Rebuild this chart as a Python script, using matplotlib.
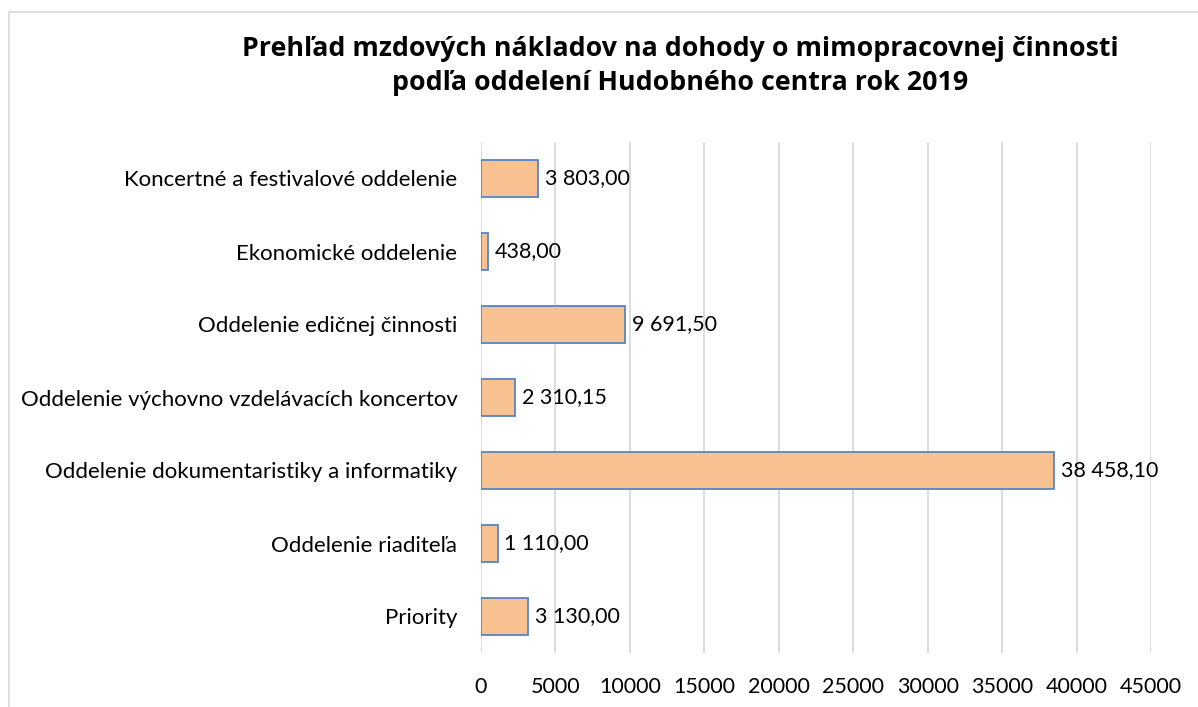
import matplotlib.pyplot as plt
from matplotlib.patches import Rectangle

# Data (bottom to top)
categories = ['Priority',
              'Oddelenie riaditeľa',
              'Oddelenie dokumentaristiky a informatiky',
              'Oddelenie výchovno vzdelávacích koncertov',
              'Oddelenie edičnej činnosti',
              'Ekonomické oddelenie',
              'Koncertné a festivalové oddelenie']
values = [3130.00, 1110.00, 38458.10, 2310.15, 9691.50, 438.00, 3803.00]
xticks = [0, 5000, 10000, 15000, 20000, 25000, 30000, 35000, 40000, 45000]

title = ('Prehľad mzdových nákladov na dohody o mimopracovnej činnosti\n'
         'podľa oddelení Hudobného centra rok 2019')


def fmt(v):
    s = f'{v:,.2f}'
    return s.replace(',', ' ').replace('.', ',')


fig = plt.figure(figsize=(11.98, 7.07), dpi=100)

# chart area frame (cropped on right and bottom)
fig.patches.append(Rectangle((9 / 1198, -0.05), 1.1, 1 - 12 / 707 + 0.05,
                             transform=fig.transFigure, fill=False,
                             edgecolor='#D9D9D9', linewidth=1.2))

ax = fig.add_axes([481 / 1198, 1 - 653 / 707, 670 / 1198, 511 / 707])

y = range(len(categories))
ax.barh(y, values, height=0.5, color='#F8C191', edgecolor='#5585C5',
        linewidth=1.3, zorder=3)

for yi, v in zip(y, values):
    ax.annotate(fmt(v), (v, yi), xytext=(5, 0), textcoords='offset points',
                va='center', ha='left', fontsize=15.5, family='Lato',
                color='#000000')

ax.set_xlim(0, 45000)
ax.set_ylim(-0.5, len(categories) - 0.5)
ax.set_xticks(xticks)
ax.set_xticklabels([str(t) for t in xticks], family='Lato', fontsize=15.5)
ax.set_yticks(list(y))
ax.set_yticklabels(categories, family='Lato', fontsize=16)
ax.tick_params(axis='y', length=0, pad=17)
ax.tick_params(axis='x', length=0, pad=17)

ax.grid(axis='x', color='#D9D9D9', linewidth=1.3, zorder=0)
for s in ax.spines.values():
    s.set_visible(False)

fig.text(680 / 1198, 1 - 66 / 707, title, ha='center', va='center',
         fontsize=19.3, fontweight='bold', family='Open Sans', linespacing=1.35)

fig.savefig('out.png', dpi=100)
